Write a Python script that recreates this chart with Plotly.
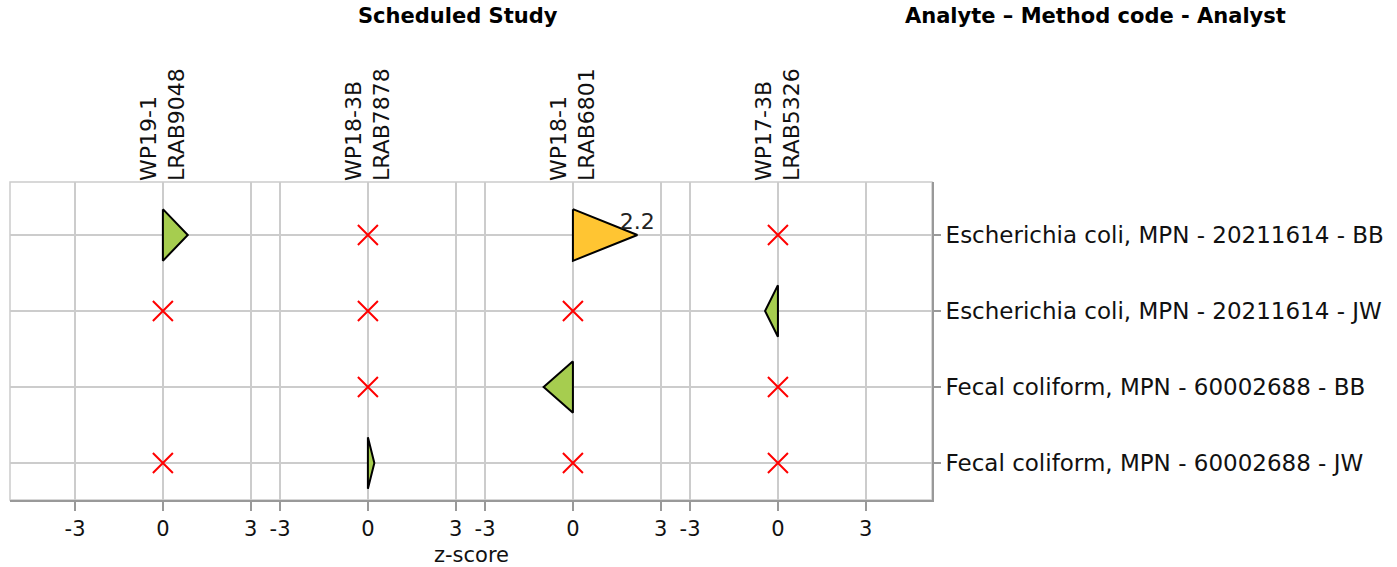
import plotly.graph_objects as go

# Studies (columns / panels) and analyte rows
studies = ["WP19-1<br>LRAB9048", "WP18-3B<br>LRAB7878", "WP18-1<br>LRAB6801", "WP17-3B<br>LRAB5326"]
analytes = [
    "Escherichia coli, MPN - 20211614 - BB",
    "Escherichia coli, MPN - 20211614 - JW",
    "Fecal coliform, MPN - 60002688 - BB",
    "Fecal coliform, MPN - 60002688 - JW",
]

# z-scores per analyte row, one entry per study; "X" = not reported, None = not scheduled
z_scores = [
    [0.85, "X", 2.2, "X"],
    ["X", "X", "X", -0.44],
    [None, "X", -1.0, "X"],
    ["X", 0.22, "X", "X"],
]

axis_ticks = [-3, 0, 3]
panel_gap = 7          # x-offset between study panels
half_height = 0.34     # half the triangle height, in row units

GREEN = "#a6cd4f"
YELLOW = "#ffc532"
GRID = "#cccccc"
AXIS = "#999999"
FONT = "DejaVu Sans"

fig = go.Figure()

miss_x, miss_y = [], []
for r, row in enumerate(z_scores):
    for c, z in enumerate(row):
        off = c * panel_gap
        if z is None:
            continue
        if z == "X":
            miss_x.append(off)
            miss_y.append(r)
            continue
        color = YELLOW if abs(z) >= 2 else GREEN
        fig.add_trace(go.Scatter(
            x=[off, off + z, off, off],
            y=[r - half_height, r, r + half_height, r - half_height],
            mode="lines", fill="toself", fillcolor=color,
            line=dict(color="black", width=2),
            hoverinfo="skip", showlegend=False,
        ))
        if abs(z) >= 2:
            fig.add_trace(go.Scatter(
                x=[off + z], y=[r], mode="text", text=[f"{z:g}"],
                textposition="top center",
                textfont=dict(family=FONT, size=22, color="#222"),
                showlegend=False, hoverinfo="skip",
            ))

fig.add_trace(go.Scatter(
    x=miss_x, y=miss_y, mode="markers",
    marker=dict(symbol="x-thin-open", size=20, line=dict(color="red", width=2), color="red"),
    showlegend=False, hoverinfo="skip",
))

tickvals, ticktext = [], []
for c in range(len(studies)):
    for t in axis_ticks:
        tickvals.append(c * panel_gap + t)
        ticktext.append(str(t))

xrange = [-5.22, (len(studies) - 1) * panel_gap + 5.26]

fig.update_layout(
    width=1397, height=567, autosize=False,
    margin=dict(l=10, r=465, t=182, b=67),
    plot_bgcolor="white", paper_bgcolor="white",
    font=dict(family=FONT, size=22, color="#111"),
    xaxis=dict(
        range=xrange, tickvals=tickvals, ticktext=ticktext,
        showgrid=True, gridcolor=GRID, gridwidth=1.5, zeroline=False,
        showline=True, linecolor=AXIS, linewidth=2,
        ticks="outside", ticklen=9, tickcolor=AXIS, tickwidth=1.5,
        tickfont=dict(size=21),
    ),
    xaxis2=dict(
        range=xrange, overlaying="x", side="top",
        tickvals=[c * panel_gap for c in range(len(studies))], ticktext=studies,
        tickangle=-90, showgrid=False, zeroline=False, ticks="", ticklen=0,
        tickfont=dict(size=22), anchor="y",
    ),
    yaxis=dict(
        range=[3.487, -0.697], side="right",
        tickvals=list(range(len(analytes))), ticktext=analytes,
        showgrid=True, gridcolor=GRID, gridwidth=1.5, zeroline=False,
        showline=True, linecolor=AXIS, linewidth=2,
        ticks="outside", ticklen=7, tickcolor=AXIS, tickwidth=1.5,
        tickfont=dict(size=23),
    ),
    shapes=[dict(type="rect", xref="paper", yref="paper", x0=0, x1=1, y0=0, y1=1,
                 line=dict(color=GRID, width=1.5), layer="below")],
    annotations=[
        dict(text="<b>Scheduled Study</b>", xref="paper", yref="paper",
             x=0.486, y=1.522, showarrow=False, font=dict(size=21, color="#000"),
             xanchor="center", yanchor="middle"),
        dict(text="<b>Analyte – Method code - Analyst</b>", xref="paper", yref="paper",
             x=1.177, y=1.522, showarrow=False, font=dict(size=21, color="#000"),
             xanchor="center", yanchor="middle"),
        dict(text="z-score", xref="paper", yref="paper",
             x=0.5, y=-0.172, showarrow=False, font=dict(size=21, color="#111"),
             xanchor="center", yanchor="middle"),
    ],
)

# invisible point on the top axis so its study labels are rendered
fig.add_trace(go.Scatter(x=[0], y=[0], xaxis="x2", mode="markers",
                         marker=dict(opacity=0), showlegend=False, hoverinfo="skip"))

fig.write_html("out.html")
